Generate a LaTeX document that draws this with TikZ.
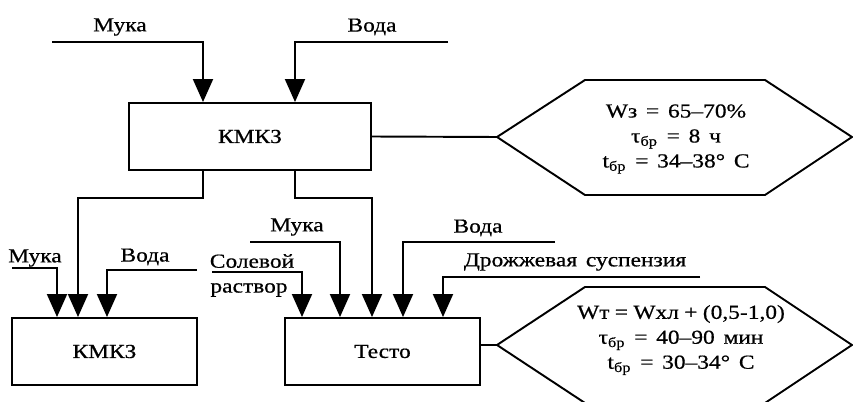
\documentclass[tikz,border=0pt]{standalone}
\usepackage{fontspec}
\setmainfont{Liberation Serif}[FakeStretch=1.18,FakeBold=0.6,WordSpace=1.5]
\usetikzlibrary{arrows.meta}

\begin{document}
\begin{tikzpicture}[x=0.02cm,y=-0.02cm,line width=1.1pt,font=\fontsize{11.3}{14.2}\selectfont,
        box/.style={draw,minimum height=1.34cm,inner sep=0pt},
        feed/.style={-{Triangle[width=0.4cm,length=0.46cm]}},
        par/.style={align=center,inner sep=0pt}]
        \useasboundingbox (0,0) rectangle (853,402);
        \node[box,minimum width=4.84cm] (kmk1) at (250,136.5) {КМКЗ};
        \node[box,minimum width=3.7cm] (kmk2) at (104.5,351.5) {КМКЗ};
        \node[box,minimum width=3.9cm] (testo) at (382.5,351.5) {Тесто};
        \node (muka1) at (120,27) {Мука};  \node (voda1) at (372,27) {Вода};
        \node (muka2) at (35,258) {Мука};  \node (voda2) at (145,257) {Вода};
        \node (sol1) at (252,261) {Солевой};  \node (sol2) at (249,290) {раствор};
        \node (muka3) at (297,227) {Мука};  \node (voda3) at (478,228) {Вода};
        \node (drozh) at (575,262) {Дрожжевая суспензия};
        \coordinate (m1) at (52,42);  \coordinate (m1c) at (203,42);
        \coordinate (v1) at (448,42);  \coordinate (v1c) at (295,42);
        \coordinate (m2) at (12,268);  \coordinate (m2c) at (57,268);
        \coordinate (v2) at (197,270);  \coordinate (v2c) at (107,270);
        \coordinate (s3) at (212,272);  \coordinate (s3c) at (302,272);
        \coordinate (m3) at (250,242);  \coordinate (m3c) at (340,242);
        \coordinate (v3) at (555,242);  \coordinate (v3c) at (403,242);
        \coordinate (d3) at (700,277);  \coordinate (d3c) at (443,277);
        \coordinate (o1) at (203,198);  \coordinate (o1c) at (78,198);
        \coordinate (o2) at (295,198);  \coordinate (o2c) at (372,198);
        \coordinate (h1w) at (497,137);  \coordinate (h2w) at (497,345);
        \draw [feed] (m1) -- (m1c) -- (m1c |- kmk1.north);  \draw [feed] (v1) -- (v1c) -- (v1c |- kmk1.north);
        \draw [feed] (o1 |- kmk1.south) -- (o1) -- (o1c) -- (o1c |- kmk2.north);
        \draw [feed] (o2 |- kmk1.south) -- (o2) -- (o2c) -- (o2c |- testo.north);
        \draw [feed] (m2) -- (m2c) -- (m2c |- kmk2.north);  \draw [feed] (v2) -- (v2c) -- (v2c |- kmk2.north);
        \draw [feed] (s3) -- (s3c) -- (s3c |- testo.north);  \draw [feed] (m3) -- (m3c) -- (m3c |- testo.north);
        \draw [feed] (v3) -- (v3c) -- (v3c |- testo.north);  \draw [feed] (d3) -- (d3c) -- (d3c |- testo.north);
        \draw (kmk1.east) -- (h1w);  \draw (h2w -| testo.east) -- (h2w);
        \draw (h1w) -- (585,80) -- (765,80) -- (852,137) -- (765,195) -- (585,195) -- cycle;
        \draw (h2w) -- (585,287) -- (765,287) -- (852,345) -- (765,403) -- (585,403) -- cycle;
        \node[par] (par1) at (676,139) {Wз = 65--70\%\\τ\textsubscript{бр} = 8 ч\\t\textsubscript{бр} = 34--38° C};
        \node[par] (par2) at (681,340) {{\spaceskip=0.27em\relax Wт = Wхл + (0,5-1,0)}\\τ\textsubscript{бр} = 40--90 мин\\t\textsubscript{бр} = 30--34° C};
    \end{tikzpicture}
\end{document}
